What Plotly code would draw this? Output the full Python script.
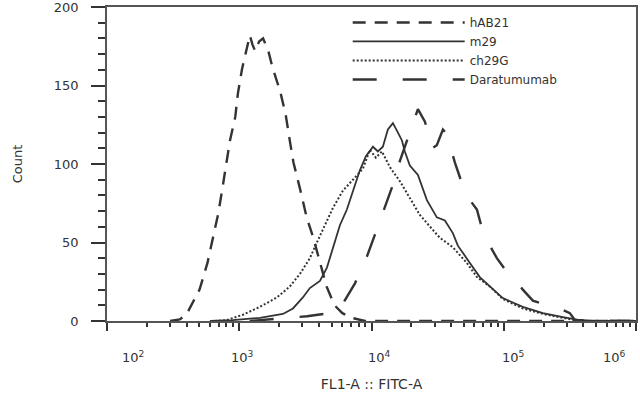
import plotly.graph_objects as go

# ---- data (FITC intensity, event count) ----
fitc_hab21 = [300, 355, 398, 501, 575, 631, 692, 741, 794, 851, 933, 977, 1047,
              1122, 1202, 1259, 1318, 1413, 1514, 1660, 1778, 2042, 2239, 2399, 2570,
              2884, 3236, 3631, 4074, 4571, 5248, 6026, 7079, 8913, 1000000]
count_hab21 = [0, 1, 4, 20, 37, 53, 68, 83, 100, 115, 130, 145, 160,
               172, 182, 176, 172, 178, 180, 172, 162, 146, 132, 116, 101,
               84, 66, 53, 37, 22, 10, 5, 2, 0, 0]

fitc_m29 = [600, 891, 1432, 2138, 2547, 3027, 3420, 4074, 4603, 5105, 5768, 6516,
            7228, 8166, 9078, 9727, 10257, 11169, 12190, 13305, 14521, 15849, 16982,
            17865, 19498, 22439, 26242, 31189, 35892, 41210, 44978, 55463, 65917,
            78524, 98401, 139316, 197697, 279898, 375837, 532108, 1000000]
count_m29 = [0, 0.6, 2, 4.5, 8, 15, 21, 25.5, 34, 47, 61, 71,
             83, 96, 105, 108, 111, 108, 111, 122, 126, 120, 115,
             108, 99, 93, 77, 66, 64, 56, 48, 37, 28,
             22, 14.6, 9, 5, 2.5, 0.6, 0, 0]

fitc_ch29g = [655, 807, 1067, 1432, 1928, 2415, 2877, 3420, 3864, 4295, 5105,
              6081, 7228, 8610, 9727, 10789, 11995, 13772, 16406, 19498, 23227,
              29107, 32885, 41210, 52602, 62661, 78524, 98401, 139316, 197697,
              279898, 375837, 1000000]
count_ch29g = [0, 0.6, 4, 9, 15, 22, 30, 40, 50, 58, 72,
               83, 90, 97, 109, 104, 108, 98, 89, 78, 67.5,
               58, 53, 47, 37, 28, 22, 14, 8, 4.5,
               2, 0, 0]

fitc_dara = [1200, 1432, 2032, 3251, 4853, 5768, 7499, 9226, 10617, 12618, 14256,
             16406, 19498, 22439, 25351, 28642, 31189, 34674, 37154, 42658, 49091,
             55463, 62661, 69502, 78524, 88716, 101859, 117220, 139316, 165959,
             222844, 279898, 316228, 344350, 1000000]
count_dara = [0, 0.5, 1.3, 3, 5, 8, 24, 41, 55, 72, 85,
              102, 121, 135, 127, 110, 112, 122, 119, 101, 86,
              77, 71, 57, 48, 40, 33, 28, 20, 13,
              9.5, 7, 5, 0.6, 0]

series_names = ["hAB21", "m29", "ch29G", "Daratumumab"]
x_tick_vals = [1e2, 1e3, 1e4, 1e5, 1e6]
x_tick_text = ["10<sup>2</sup>", "10<sup>3</sup>", "10<sup>4</sup>",
               "10<sup>5</sup>", "10<sup>6</sup>"]
# horizontal placement of the decade labels as drawn in the reference (paper units)
x_label_pos = [0.049, 0.257, 0.516, 0.767, 0.960]

line_styles = [
    dict(dash="13px,9px", width=2.4),
    dict(dash="solid", width=1.8),
    dict(dash="2px,2px", width=2.0),
    dict(dash="24px,26px", width=2.4),
]
xs = [fitc_hab21, fitc_m29, fitc_ch29g, fitc_dara]
ys = [count_hab21, count_m29, count_ch29g, count_dara]

INK = "#333333"
fig = go.Figure()
for name, x, y, ls in zip(series_names, xs, ys, line_styles):
    fig.add_trace(go.Scatter(x=x, y=y, mode="lines", name=name,
                             line=dict(color=INK, **ls)))

minor_x = [m * 10 ** e for e in range(2, 6) for m in range(2, 10)]

annotations = [
    dict(text=t, x=p, y=-0.082, xref="paper", yref="paper",
         xanchor="center", yanchor="top", showarrow=False,
         font=dict(size=13, color=INK, family="DejaVu Sans"))
    for t, p in zip(x_tick_text, x_label_pos)
]

fig.update_layout(
    template="simple_white",
    width=640, height=398,
    margin=dict(l=107, r=4, t=7, b=77, autoexpand=False),
    paper_bgcolor="white", plot_bgcolor="white",
    font=dict(family="DejaVu Sans", color=INK, size=13),
    showlegend=True,
    legend=dict(x=0.455, y=0.997, xanchor="left", yanchor="top",
                bgcolor="rgba(0,0,0,0)", borderwidth=0, itemwidth=112,
                font=dict(size=12, color=INK), tracegroupgap=0),
    annotations=annotations,
)
fig.update_xaxes(
    type="log", range=[2, 6], automargin=False,
    tickmode="array", tickvals=x_tick_vals, ticktext=x_tick_text,
    showticklabels=False,
    ticks="outside", ticklen=8, tickwidth=2, tickcolor=INK,
    minor=dict(ticks="outside", ticklen=4, tickwidth=1.5, tickcolor=INK,
               tickmode="array", tickvals=minor_x, showgrid=False),
    showline=True, linecolor="#555555", linewidth=1.5, mirror=True,
    showgrid=False, zeroline=False,
    title=dict(text="FL1-A :: FITC-A", font=dict(size=14, color=INK), standoff=49),
)
fig.update_yaxes(
    range=[0, 200], automargin=False,
    tickmode="array", tickvals=[0, 50, 100, 150, 200],
    ticks="outside", ticklen=14, tickwidth=2, tickcolor=INK,
    ticklabelstandoff=10, ticklabeloverflow="allow",
    tickfont=dict(size=13, color=INK),
    minor=dict(ticks="outside", ticklen=7, tickwidth=1.5, tickcolor=INK,
               dtick=10, showgrid=False),
    showline=True, linecolor="#555555", linewidth=1.5, mirror=True,
    showgrid=False, zeroline=False,
    title=dict(text="Count", font=dict(size=13, color=INK), standoff=28),
)

fig.write_html("out.html",
               config={"displayModeBar": False},
               post_script="document.body.style.margin='0';document.body.style.padding='0';")
